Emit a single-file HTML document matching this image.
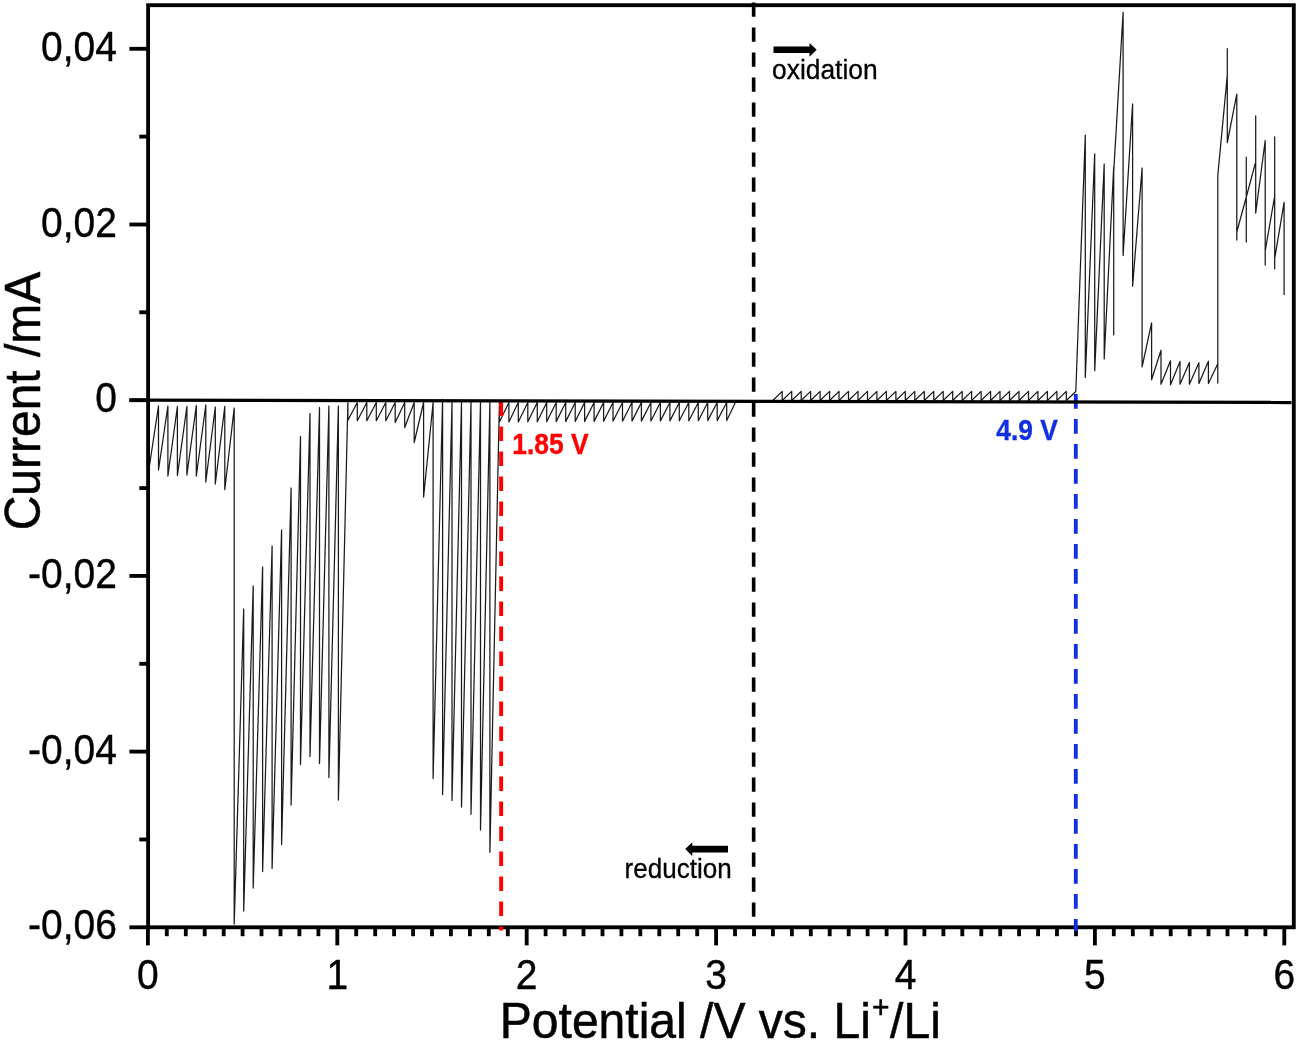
<!DOCTYPE html>
<html lang="en"><head><meta charset="utf-8"><title>Current vs Potential</title>
<style>
html,body{margin:0;padding:0;background:#fff;}
body{width:1300px;height:1043px;overflow:hidden;}
svg{display:block;font-family:"Liberation Sans",Arial,sans-serif;}
</style></head><body>
<svg width="1300" height="1043" viewBox="0 0 1300 1043">
<rect width="1300" height="1043" fill="#fff"/>
<g fill="none" stroke="#1a1a1a" stroke-width="1.25" stroke-linejoin="round">
<path d="M148.5 472 L158.5 406 L158.5 470 L167.9 406 L167.9 476 L177.4 406.5 L177.4 475.5 L186.9 406.5 L186.9 475 L196.3 405.5 L196.3 476 L205.8 405 L205.8 482 L215.3 407 L215.3 484 L224.8 406.5 L224.8 489.5 L234.2 408 L234.2 924 L243.7 609 L243.7 911 L253.2 586 L253.2 888 L262.6 567 L262.6 871.5 L272.1 546 L272.1 868.5 L281.6 530 L281.6 844.5 L291.1 488 L291.1 805 L300.5 436.5 L300.5 764.5 L310 413.5 L310 756.5 L319.5 407.5 L319.5 763.5 L328.9 406 L328.9 777.5 L338.4 406 L338.4 800 L347.9 402.5 L347.9 420.3 L357.3 402.5 L357.3 420.7 L366.8 402.5 L366.8 420.7 L376.3 402.5 L376.3 420.7 L385.8 402.5 L385.8 420.7 L395.2 402.5 L395.2 422.6 L404.7 402.5 L404.7 427.5 L414.2 402.5 L414.2 442.5 L423.6 402.5 L423.6 497 L433.1 402.5 L433.1 778.5 L442.6 399.5 L442.6 794.5 L452 402 L452 800.5 L461.5 402 L461.5 807 L471 402 L471 814.3 L480.5 402 L480.5 830 L489.9 402 L489.9 852.3 L499.4 402.5 L499.4 422 L508.9 402.5 L508.9 421.9 L518.3 402.5 L518.3 421.9 L527.8 402.5 L527.8 421.8 L537.3 402.5 L537.3 421.8 L546.7 402.5 L546.7 421.7 L556.2 402.5 L556.2 421.6 L565.7 402.5 L565.7 421.6 L575.2 402.5 L575.2 421.5 L584.6 402.5 L584.6 421.4 L594.1 402.5 L594.1 421.4 L603.6 402.5 L603.6 421.3 L613 402.5 L613 421.2 L622.5 402.5 L622.5 421.2 L632 402.5 L632 421.1 L641.4 402.5 L641.4 421.1 L650.9 402.5 L650.9 421 L660.4 402.5 L660.4 420.9 L669.9 402.5 L669.9 420.9 L679.3 402.5 L679.3 420.8 L688.8 402.5 L688.8 420.8 L698.3 402.5 L698.3 420.7 L707.7 402.5 L707.7 420.6 L717.2 402.5 L717.2 420.6 L726.7 402.5 L726.7 420.5 L736.1 401"/>
<path d="M772.8 400.5 L782.2 391.4 L782.2 400.5 L791.7 391.4 L791.7 400.5 L801.2 391.4 L801.2 400.5 L810.6 391.4 L810.6 400.5 L820.1 391.4 L820.1 400.5 L829.6 391.4 L829.6 400.5 L839 391.4 L839 400.5 L848.5 391.4 L848.5 400.5 L858 391.4 L858 400.5 L867.5 391.4 L867.5 400.5 L876.9 391.4 L876.9 400.5 L886.4 391.4 L886.4 400.5 L895.9 391.4 L895.9 400.5 L905.3 391.4 L905.3 400.5 L914.8 391.4 L914.8 400.5 L924.3 391.4 L924.3 400.5 L933.8 391.4 L933.8 400.5 L943.2 391.4 L943.2 400.5 L952.7 391.4 L952.7 400.5 L962.2 391.4 L962.2 400.5 L971.6 391.4 L971.6 400.5 L981.1 391.4 L981.1 400.5 L990.6 391.4 L990.6 400.5 L1000 391.4 L1000 400.5 L1009.5 391.4 L1009.5 400.5 L1019 391.4 L1019 400.5 L1028.5 391.4 L1028.5 400.5 L1037.9 391.4 L1037.9 400.5 L1047.4 391.4 L1047.4 400.5 L1056.9 391.4 L1056.9 400.5 L1066.3 391.4 L1066.3 400.5 L1075.8 391.5 L1085.3 135.1 L1085.3 377.4 L1094.7 153.8 L1094.7 370.6 L1104.2 164 L1104.2 358.9 L1113.7 167 L1113.7 334.9 L1113.7 172 L1123.1 12.3 L1123.1 255.4 L1132.6 104 L1132.6 286.2 L1142.1 168 L1142.1 366.9 L1151.6 323 L1151.6 379.8 L1161 350.3 L1161 384.2 L1170.5 360.8 L1170.5 384.8 L1180 361.4 L1180 384.2 L1189.4 362.6 L1189.4 384.2 L1198.9 362.7 L1198.9 383.5 L1208.4 361.2 L1208.4 383.5 L1217.8 363.8 L1217.8 383.1 L1217.8 175.4 L1227.3 75 L1227.3 48.5 L1227.3 142.7 L1236.8 94.2 L1236.8 240 L1236.8 232 L1246.3 197 L1246.3 157 L1246.3 242 L1246.3 197 L1255.7 161.8 L1255.7 115.8 L1255.7 213 L1265.2 140.5 L1265.2 265 L1265.2 251 L1274.7 196 L1274.7 136.9 L1274.7 268.8 L1274.7 258.5 L1284.1 202.3 L1284.1 295"/>
</g>
<g stroke="#000" stroke-width="3.85" fill="none">
<rect x="148.1" y="5.2" width="1145.7" height="922.1"/>
<line x1="147.9" y1="927.4" x2="147.9" y2="945.4"/>
<line x1="166.8" y1="927.4" x2="166.8" y2="936.2"/>
<line x1="185.8" y1="927.4" x2="185.8" y2="936.2"/>
<line x1="204.7" y1="927.4" x2="204.7" y2="936.2"/>
<line x1="223.7" y1="927.4" x2="223.7" y2="936.2"/>
<line x1="242.6" y1="927.4" x2="242.6" y2="936.2"/>
<line x1="261.5" y1="927.4" x2="261.5" y2="936.2"/>
<line x1="280.5" y1="927.4" x2="280.5" y2="936.2"/>
<line x1="299.4" y1="927.4" x2="299.4" y2="936.2"/>
<line x1="318.4" y1="927.4" x2="318.4" y2="936.2"/>
<line x1="337.3" y1="927.4" x2="337.3" y2="945.4"/>
<line x1="356.2" y1="927.4" x2="356.2" y2="936.2"/>
<line x1="375.2" y1="927.4" x2="375.2" y2="936.2"/>
<line x1="394.1" y1="927.4" x2="394.1" y2="936.2"/>
<line x1="413.1" y1="927.4" x2="413.1" y2="936.2"/>
<line x1="432" y1="927.4" x2="432" y2="936.2"/>
<line x1="450.9" y1="927.4" x2="450.9" y2="936.2"/>
<line x1="469.9" y1="927.4" x2="469.9" y2="936.2"/>
<line x1="488.8" y1="927.4" x2="488.8" y2="936.2"/>
<line x1="507.8" y1="927.4" x2="507.8" y2="936.2"/>
<line x1="526.7" y1="927.4" x2="526.7" y2="945.4"/>
<line x1="545.6" y1="927.4" x2="545.6" y2="936.2"/>
<line x1="564.6" y1="927.4" x2="564.6" y2="936.2"/>
<line x1="583.5" y1="927.4" x2="583.5" y2="936.2"/>
<line x1="602.5" y1="927.4" x2="602.5" y2="936.2"/>
<line x1="621.4" y1="927.4" x2="621.4" y2="936.2"/>
<line x1="640.3" y1="927.4" x2="640.3" y2="936.2"/>
<line x1="659.3" y1="927.4" x2="659.3" y2="936.2"/>
<line x1="678.2" y1="927.4" x2="678.2" y2="936.2"/>
<line x1="697.2" y1="927.4" x2="697.2" y2="936.2"/>
<line x1="716.1" y1="927.4" x2="716.1" y2="945.4"/>
<line x1="735" y1="927.4" x2="735" y2="936.2"/>
<line x1="754" y1="927.4" x2="754" y2="936.2"/>
<line x1="772.9" y1="927.4" x2="772.9" y2="936.2"/>
<line x1="791.9" y1="927.4" x2="791.9" y2="936.2"/>
<line x1="810.8" y1="927.4" x2="810.8" y2="936.2"/>
<line x1="829.7" y1="927.4" x2="829.7" y2="936.2"/>
<line x1="848.7" y1="927.4" x2="848.7" y2="936.2"/>
<line x1="867.6" y1="927.4" x2="867.6" y2="936.2"/>
<line x1="886.6" y1="927.4" x2="886.6" y2="936.2"/>
<line x1="905.5" y1="927.4" x2="905.5" y2="945.4"/>
<line x1="924.4" y1="927.4" x2="924.4" y2="936.2"/>
<line x1="943.4" y1="927.4" x2="943.4" y2="936.2"/>
<line x1="962.3" y1="927.4" x2="962.3" y2="936.2"/>
<line x1="981.3" y1="927.4" x2="981.3" y2="936.2"/>
<line x1="1000.2" y1="927.4" x2="1000.2" y2="936.2"/>
<line x1="1019.1" y1="927.4" x2="1019.1" y2="936.2"/>
<line x1="1038.1" y1="927.4" x2="1038.1" y2="936.2"/>
<line x1="1057" y1="927.4" x2="1057" y2="936.2"/>
<line x1="1076" y1="927.4" x2="1076" y2="936.2"/>
<line x1="1094.9" y1="927.4" x2="1094.9" y2="945.4"/>
<line x1="1113.8" y1="927.4" x2="1113.8" y2="936.2"/>
<line x1="1132.8" y1="927.4" x2="1132.8" y2="936.2"/>
<line x1="1151.7" y1="927.4" x2="1151.7" y2="936.2"/>
<line x1="1170.7" y1="927.4" x2="1170.7" y2="936.2"/>
<line x1="1189.6" y1="927.4" x2="1189.6" y2="936.2"/>
<line x1="1208.5" y1="927.4" x2="1208.5" y2="936.2"/>
<line x1="1227.5" y1="927.4" x2="1227.5" y2="936.2"/>
<line x1="1246.4" y1="927.4" x2="1246.4" y2="936.2"/>
<line x1="1265.4" y1="927.4" x2="1265.4" y2="936.2"/>
<line x1="1284.3" y1="927.4" x2="1284.3" y2="945.4"/>
<line x1="129.4" y1="927.3" x2="148.1" y2="927.3"/>
<line x1="139.3" y1="839.5" x2="148.1" y2="839.5"/>
<line x1="129.4" y1="751.6" x2="148.1" y2="751.6"/>
<line x1="139.3" y1="663.8" x2="148.1" y2="663.8"/>
<line x1="129.4" y1="575.9" x2="148.1" y2="575.9"/>
<line x1="139.3" y1="488.1" x2="148.1" y2="488.1"/>
<line x1="129.4" y1="400.2" x2="148.1" y2="400.2"/>
<line x1="139.3" y1="312.3" x2="148.1" y2="312.3"/>
<line x1="129.4" y1="224.5" x2="148.1" y2="224.5"/>
<line x1="139.3" y1="136.6" x2="148.1" y2="136.6"/>
<line x1="129.4" y1="48.8" x2="148.1" y2="48.8"/>
</g>
<line x1="753.65" y1="2.5" x2="753.65" y2="927" stroke="#000" stroke-width="3.6" stroke-dasharray="14.2 10.8"/>
<line x1="501.15" y1="401.5" x2="501.15" y2="930.5" stroke="#ff0000" stroke-width="3.9" stroke-dasharray="14.4 10.6"/>
<line x1="1075.8" y1="394" x2="1075.8" y2="930.9" stroke="#1230e2" stroke-width="3.85" stroke-dasharray="14.7 10.3"/>
<line x1="129.3" y1="400.2" x2="1291.5" y2="402.5" stroke="#000" stroke-width="3.3"/>
<g font-size="39px" fill="#000" stroke="#000" stroke-width="0.38"><text transform="translate(116.9,60.8) scale(1,1.075)" text-anchor="end">0,04</text><text transform="translate(116.9,236.5) scale(1,1.075)" text-anchor="end">0,02</text><text transform="translate(116.9,412.2) scale(1,1.075)" text-anchor="end">0</text><text transform="translate(116.9,587.9) scale(1,1.075)" text-anchor="end">-0,02</text><text transform="translate(116.9,763.6) scale(1,1.075)" text-anchor="end">-0,04</text><text transform="translate(116.9,939.3) scale(1,1.075)" text-anchor="end">-0,06</text><text transform="translate(147.9,989) scale(1,1.075)" text-anchor="middle">0</text><text transform="translate(337.3,989) scale(1,1.075)" text-anchor="middle">1</text><text transform="translate(526.7,989) scale(1,1.075)" text-anchor="middle">2</text><text transform="translate(716.1,989) scale(1,1.075)" text-anchor="middle">3</text><text transform="translate(905.5,989) scale(1,1.075)" text-anchor="middle">4</text><text transform="translate(1094.9,989) scale(1,1.075)" text-anchor="middle">5</text><text transform="translate(1284.3,989) scale(1,1.075)" text-anchor="middle">6</text></g>
<text transform="translate(499.8,1038.3) scale(1,1.042)" font-size="48.05px" fill="#000" stroke="#000" stroke-width="0.5">Potential /V vs. Li<tspan font-size="30px" dy="-19.2" dx="1.1">+</tspan><tspan dy="19.2" dx="0.6">/Li</tspan></text>
<text transform="translate(39.5,530.3) rotate(-90) scale(1,1.042)" font-size="48px" fill="#000" stroke="#000" stroke-width="0.5">Current /mA</text>
<path d="M773.5 46.5H809.5V42.9L816.7 49.8L809.5 56.7V53.1H773.5Z" fill="#000"/>
<text transform="translate(772,78.6) scale(1,1.042)" font-size="26.4px" fill="#000" stroke="#000" stroke-width="0.3">oxidation</text>
<path d="M728 845.8H692.3V842.3L685.2 849.1L692.3 855.9V852.4H728Z" fill="#000"/>
<text transform="translate(624.6,878.3) scale(1,1.042)" font-size="26.05px" fill="#000" stroke="#000" stroke-width="0.3">reduction</text>
<text transform="translate(512.3,454.0) scale(1,1.085)" font-size="26.4px" font-weight="bold" fill="#ff0000" stroke="#ff0000" stroke-width="0.35">1.85 V</text>
<text transform="translate(996.3,439.6) scale(1,1.085)" font-size="26.4px" font-weight="bold" fill="#1230e2" stroke="#1230e2" stroke-width="0.35">4.9 V</text>
</svg>
</body></html>
